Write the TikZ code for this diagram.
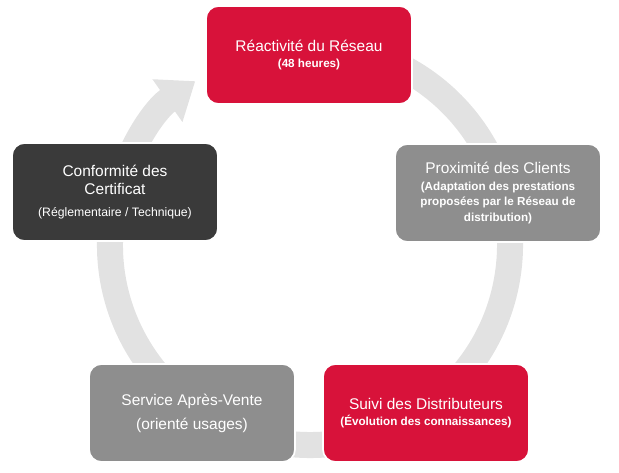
\documentclass[tikz,border=0pt]{standalone}
\usepackage{fontspec}
\setmainfont{Liberation Sans}
\usetikzlibrary{arrows.meta}

\definecolor{boxred}{HTML}{D8123A}
\definecolor{boxgray}{HTML}{8E8E8E}
\definecolor{boxdark}{HTML}{3A3A3A}
\definecolor{ringgray}{HTML}{E2E2E2}

\newcommand{\subtxt}{\fontsize{8.3}{9.5}\selectfont\bfseries}

\tikzset{
  box/.style={rounded corners=9pt, draw=white, line width=1.2pt, text=white,
    align=center, minimum width=5.15cm, minimum height=2.45cm, inner sep=2pt,
    font=\fontsize{11}{13}\selectfont},
}

\begin{document}
\begin{tikzpicture}[x=0.025cm,y=-0.025cm]
\useasboundingbox (0,0) rectangle (619,473);

% ring with arrow head
\draw[ringgray, line width=0.65cm, -{Triangle[length=0.85cm,width=1.25cm]}]
  (310,245) ++(-80:200) arc[start angle=-80, end angle=235, radius=200];

\node[box, fill=boxred] (react) at (309,55)
  {Réactivité du Réseau\\[-1pt]\subtxt (48 heures)};
\node[box, fill=boxgray] (prox) at (498,193)
  {Proximité des Clients\\[-1pt]\subtxt (Adaptation des prestations\\[-2pt]\subtxt proposées par le Réseau de\\[-2pt]\subtxt distribution)};
\node[box, fill=boxred] (suivi) at (426,413)
  {Suivi des Distributeurs\\[-2pt]\subtxt (Évolution des connaissances)};
\node[box, fill=boxgray] (sav) at (192,413)
  {Service Après-Vente\\[4pt](orienté usages)};
\node[box, fill=boxdark] (conf) at (115,192)
  {Conformité des\\Certificat\\[3pt]\fontsize{8.7}{10}\selectfont (Réglementaire / Technique)};
\end{tikzpicture}
\end{document}
